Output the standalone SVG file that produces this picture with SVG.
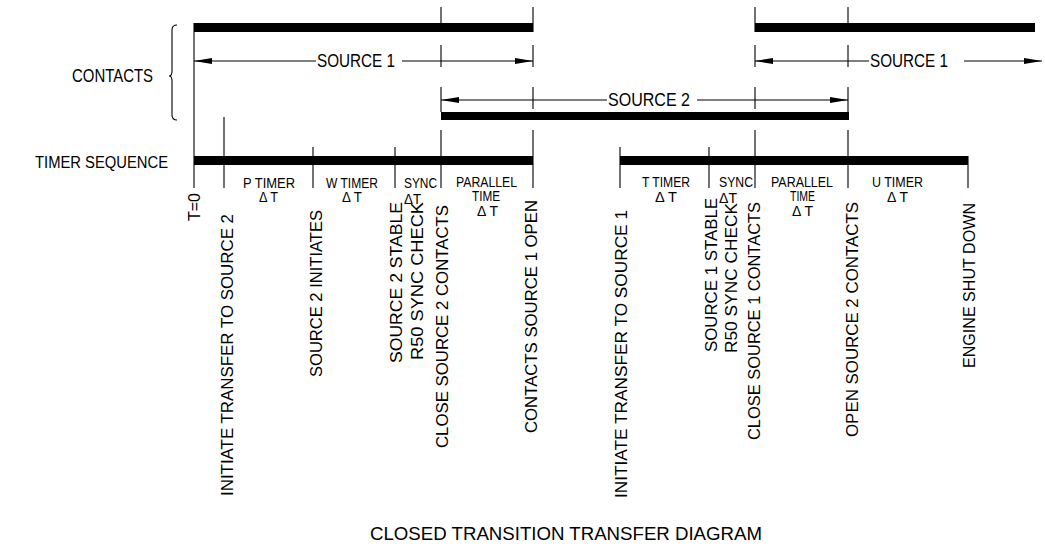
<svg xmlns="http://www.w3.org/2000/svg" width="1045" height="548" viewBox="0 0 1045 548">
<style>
text{font-family:"Liberation Sans",Arial,sans-serif;fill:#000;}
.lbl{font-size:18px;}
.rot{font-size:17px;}
.sm{font-size:14px;}
.ln{stroke:#000;stroke-width:1.1;fill:none;}
.bar{fill:#000;}
</style>
<defs>
<marker id="ah" viewBox="0 0 18 6" refX="18" refY="3" markerWidth="18" markerHeight="6" markerUnits="userSpaceOnUse" orient="auto-start-reverse">
<path d="M0,0 L18,3 L0,6 z" fill="#000"/>
</marker>
</defs>
<rect width="1045" height="548" fill="#fff"/>

<g id="left-labels">
<text class="lbl" x="72" y="82" textLength="81" lengthAdjust="spacingAndGlyphs">CONTACTS</text>
<text class="lbl" x="35" y="168" font-size="16" textLength="133" lengthAdjust="spacingAndGlyphs" style="font-size:16px">TIMER SEQUENCE</text>
<path class="ln" d="M177,25 Q172,25 172,30 L172,71 Q172,76 169,76 Q172,76 172,81 L172,115 Q172,120 177,120"/>
</g>

<g id="bars">
<rect class="bar" x="194" y="23" width="339" height="9"/>
<rect class="bar" x="755" y="23" width="280" height="9"/>
<rect class="bar" x="441" y="112" width="408" height="8"/>
<rect class="bar" x="194" y="156" width="339" height="9"/>
<rect class="bar" x="620" y="156" width="348" height="9"/>
</g>

<g id="connectors">
<!-- extension lines -->
<path class="ln" d="M194,23 V188"/>
<path class="ln" d="M441,7 V32 M441,45 V67 M441,87 V112 M441,130 V188"/>
<path class="ln" d="M533,7 V32 M533,45 V67 M533,87 V109 M533,130 V188"/>
<path class="ln" d="M755,7 V32 M755,45 V67 M755,87 V109 M755,130 V188"/>
<path class="ln" d="M848,7 V32 M848,45 V67 M848,87 V112 M848,130 V188"/>
<!-- timer ticks -->
<path class="ln" d="M224,117 V188 M313,147 V188 M395,147 V188"/>
<path class="ln" d="M620,147 V188 M709,147 V188 M968,156 V188"/>
<!-- dimension lines -->
<line class="ln" x1="194" y1="61" x2="316" y2="61" marker-start="url(#ah)"/>
<line class="ln" x1="402" y1="61" x2="533" y2="61" marker-end="url(#ah)"/>
<line class="ln" x1="441" y1="100" x2="607" y2="100" marker-start="url(#ah)"/>
<line class="ln" x1="697" y1="100" x2="848" y2="100" marker-end="url(#ah)"/>
<line class="ln" x1="755" y1="61" x2="869" y2="61" marker-start="url(#ah)"/>
<line class="ln" x1="964" y1="61" x2="1042" y2="61" marker-end="url(#ah)"/>
</g>

<g id="dim-labels">
<text class="lbl" x="317" y="67" textLength="78" lengthAdjust="spacingAndGlyphs">SOURCE 1</text>
<text class="lbl" x="608" y="106" textLength="82" lengthAdjust="spacingAndGlyphs">SOURCE 2</text>
<text class="lbl" x="870" y="67" textLength="78" lengthAdjust="spacingAndGlyphs">SOURCE 1</text>
</g>

<g id="timer-labels">
<text class="sm" x="243" y="188" textLength="52" lengthAdjust="spacingAndGlyphs">P TIMER</text>
<text class="sm" x="259" y="202" textLength="19" lengthAdjust="spacingAndGlyphs">Δ T</text>
<text class="sm" x="326" y="188" textLength="52" lengthAdjust="spacingAndGlyphs">W TIMER</text>
<text class="sm" x="342" y="202" textLength="20" lengthAdjust="spacingAndGlyphs">Δ T</text>
<text class="sm" x="404" y="188" textLength="33" lengthAdjust="spacingAndGlyphs">SYNC</text>
<text class="sm" x="404" y="204" textLength="17" lengthAdjust="spacingAndGlyphs">ΔT</text>
<text class="sm" x="456" y="187" textLength="61" lengthAdjust="spacingAndGlyphs">PARALLEL</text>
<text class="sm" x="472" y="201" textLength="28" lengthAdjust="spacingAndGlyphs">TIME</text>
<text class="sm" x="477" y="216" textLength="21" lengthAdjust="spacingAndGlyphs">Δ T</text>

<text class="sm" x="642" y="187" textLength="48" lengthAdjust="spacingAndGlyphs">T TIMER</text>
<text class="sm" x="655" y="202" textLength="22" lengthAdjust="spacingAndGlyphs">Δ T</text>
<text class="sm" x="719" y="187" textLength="34" lengthAdjust="spacingAndGlyphs">SYNC</text>
<text class="sm" x="719" y="203" textLength="18" lengthAdjust="spacingAndGlyphs">ΔT</text>
<text class="sm" x="771" y="187" textLength="62" lengthAdjust="spacingAndGlyphs">PARALLEL</text>
<text class="sm" x="790" y="201" textLength="25" lengthAdjust="spacingAndGlyphs">TIME</text>
<text class="sm" x="792" y="216" textLength="21" lengthAdjust="spacingAndGlyphs">Δ T</text>
<text class="sm" x="872" y="187" textLength="51" lengthAdjust="spacingAndGlyphs">U TIMER</text>
<text class="sm" x="887" y="202" textLength="21" lengthAdjust="spacingAndGlyphs">Δ T</text>
</g>

<g id="event-labels">
<text class="rot" transform="translate(200,193) rotate(-90)" text-anchor="end" textLength="28" lengthAdjust="spacingAndGlyphs">T=0</text>
<text class="rot" transform="translate(233,214) rotate(-90)" text-anchor="end" textLength="282" lengthAdjust="spacingAndGlyphs">INITIATE TRANSFER TO SOURCE 2</text>
<text class="rot" transform="translate(322,210) rotate(-90)" text-anchor="end" textLength="167" lengthAdjust="spacingAndGlyphs">SOURCE 2 INITIATES</text>
<text class="rot" transform="translate(402,202) rotate(-90)" text-anchor="end" textLength="161" lengthAdjust="spacingAndGlyphs">SOURCE 2 STABLE</text>
<text class="rot" transform="translate(423,202) rotate(-90)" text-anchor="end" textLength="158" lengthAdjust="spacingAndGlyphs">R50 SYNC CHECK</text>
<text class="rot" transform="translate(448,205) rotate(-90)" text-anchor="end" textLength="243" lengthAdjust="spacingAndGlyphs">CLOSE SOURCE 2 CONTACTS</text>
<text class="rot" transform="translate(537,200) rotate(-90)" text-anchor="end" textLength="233" lengthAdjust="spacingAndGlyphs">CONTACTS SOURCE 1 OPEN</text>
<text class="rot" transform="translate(627,210) rotate(-90)" text-anchor="end" textLength="288" lengthAdjust="spacingAndGlyphs">INITIATE TRANSFER TO SOURCE 1</text>
<text class="rot" transform="translate(717,198) rotate(-90)" text-anchor="end" textLength="154" lengthAdjust="spacingAndGlyphs">SOURCE 1 STABLE</text>
<text class="rot" transform="translate(737,203) rotate(-90)" text-anchor="end" textLength="150" lengthAdjust="spacingAndGlyphs">R50 SYNC CHECK</text>
<text class="rot" transform="translate(760,202) rotate(-90)" text-anchor="end" textLength="238" lengthAdjust="spacingAndGlyphs">CLOSE SOURCE 1 CONTACTS</text>
<text class="rot" transform="translate(858,202) rotate(-90)" text-anchor="end" textLength="235" lengthAdjust="spacingAndGlyphs">OPEN SOURCE 2 CONTACTS</text>
<text class="rot" transform="translate(975,203) rotate(-90)" text-anchor="end" textLength="165" lengthAdjust="spacingAndGlyphs">ENGINE SHUT DOWN</text>
</g>

<g id="title">
<text class="lbl" x="370" y="540" textLength="392" lengthAdjust="spacingAndGlyphs">CLOSED TRANSITION TRANSFER DIAGRAM</text>
</g>
</svg>
